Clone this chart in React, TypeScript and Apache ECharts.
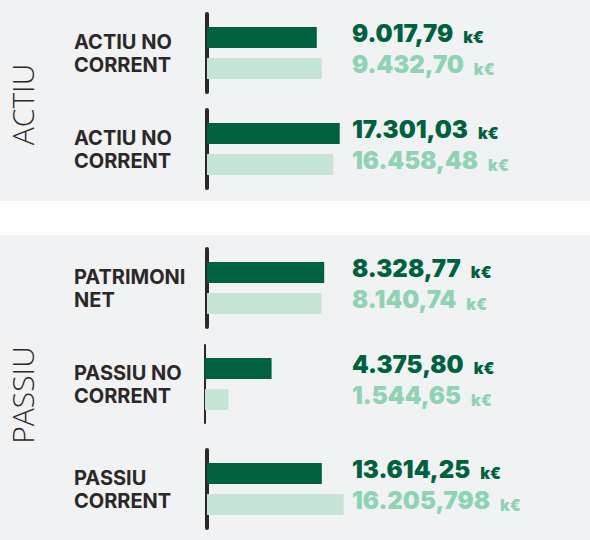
import React, { useEffect, useRef } from "react";
import * as echarts from "echarts";

// ---- data ----
const categories = [
  "ACTIU NO\nCORRENT",
  "ACTIU NO\nCORRENT",
  "PATRIMONI\nNET",
  "PASSIU NO\nCORRENT",
  "PASSIU\nCORRENT",
];
const currentValues = [9017.79, 17301.03, 8328.77, 4375.8, 13614.25];
const previousValues = [9432.7, 16458.48, 8140.74, 1544.65, 16205.798];
const sectionTitles = ["ACTIU", "PASSIU"];
const unit = "k€";
// each group in the original is drawn on its own scale
const groupAxisMax = [11500, 18250, 9950, 9200, 16600];

// ---- layout / style ----
const groupTops = [14, 110, 249, 345, 450];
const groupLeft = [207, 207, 207, 205, 207];
const axisWidth = [4, 4, 4, 2, 4];
const DARK = "#00613f";
const LIGHT_BAR = "#c7e5d7";
const LIGHT_TEXT = "#8fd2b4";
const INK = "#2d2828";
const PANEL = "#f1f2f4";

function formatNum(v: number): string {
  const s = String(v);
  const dec = s.includes(".") ? s.split(".")[1].length : 0;
  const d = Math.max(2, dec);
  const [intPart, fracPart] = v.toFixed(d).split(".");
  const grouped = intPart.replace(/\B(?=(\d{3})+(?!\d))/g, ".");
  return grouped + "," + fracPart;
}

export default function App() {
  const ref = useRef<HTMLDivElement>(null);
  useEffect(() => {
    if (!ref.current) return;
    const chart = echarts.init(ref.current, undefined, { renderer: "svg" });
    const grids: any[] = [];
    const xAxes: any[] = [];
    const yAxes: any[] = [];
    const series: any[] = [];
    categories.forEach((cat, i) => {
      grids.push({ left: groupLeft[i], top: groupTops[i], width: 140, height: 78 });
      xAxes.push({ type: "value", gridIndex: i, min: 0, max: groupAxisMax[i], show: false });
      yAxes.push({
        type: "category",
        gridIndex: i,
        data: [cat],
        offset: axisWidth[i] / 2,
        axisLine: { show: true, lineStyle: { color: INK, width: axisWidth[i] } },
        axisTick: { show: false },
        splitLine: { show: false },
        axisLabel: {
          align: "left",
          margin: groupLeft[i] - axisWidth[i] / 2 - 74,
          color: INK,
          fontFamily: "Inter",
          fontWeight: 700,
          fontSize: 20,
          lineHeight: 23,
        },
      });
      const mk = (vals: number[], barColor: string, textColor: string) => ({
        type: "bar",
        xAxisIndex: i,
        yAxisIndex: i,
        data: [vals[i]],
        barWidth: 21,
        barGap: "48%",
        itemStyle: { color: barColor },
        label: {
          show: true,
          position: "right",
          formatter: (p: any) => `{n|${formatNum(p.value)}}{u|${unit}}`,
          rich: {
            n: {
              color: textColor,
              fontFamily: "Inter",
              fontWeight: 900,
              fontSize: 24,
              lineHeight: 26,
              verticalAlign: "bottom",
            },
            u: {
              color: textColor,
              fontFamily: "Inter",
              fontWeight: 900,
              fontSize: 16,
              lineHeight: 20,
              verticalAlign: "bottom",
              padding: [0, 0, 0, 10],
            },
          },
        },
        labelLayout: (params: any) => ({
          x: 352,
          y: params.rect.y + params.rect.height / 2 - 5,
          align: "left",
          verticalAlign: "middle",
        }),
      });
      series.push(mk(currentValues, DARK, DARK));
      series.push(mk(previousValues, LIGHT_BAR, LIGHT_TEXT));
    });

    chart.setOption({
      animation: false,
      grid: grids,
      xAxis: xAxes,
      yAxis: yAxes,
      series,
      graphic: [
        { type: "rect", z: -10, shape: { x: 0, y: 0, width: 590, height: 201 }, style: { fill: PANEL } },
        { type: "rect", z: -10, shape: { x: 0, y: 235, width: 590, height: 305 }, style: { fill: PANEL } },
        {
          type: "text",
          x: 22,
          y: 104.5,
          rotation: Math.PI / 2,
          style: {
            text: sectionTitles[0],
            fill: INK,
            font: '300 30px "Open Sans"',
            textAlign: "center",
            textVerticalAlign: "middle",
          },
        },
        {
          type: "text",
          x: 22,
          y: 395,
          rotation: Math.PI / 2,
          style: {
            text: sectionTitles[1],
            fill: INK,
            font: '300 30px "Open Sans"',
            textAlign: "center",
            textVerticalAlign: "middle",
          },
        },
      ],
    });
    return () => chart.dispose();
  }, []);
  return (
    <div
      ref={ref}
      style={{ position: "fixed", left: 0, top: 0, width: 590, height: 540, background: "#fff" }}
    />
  );
}
